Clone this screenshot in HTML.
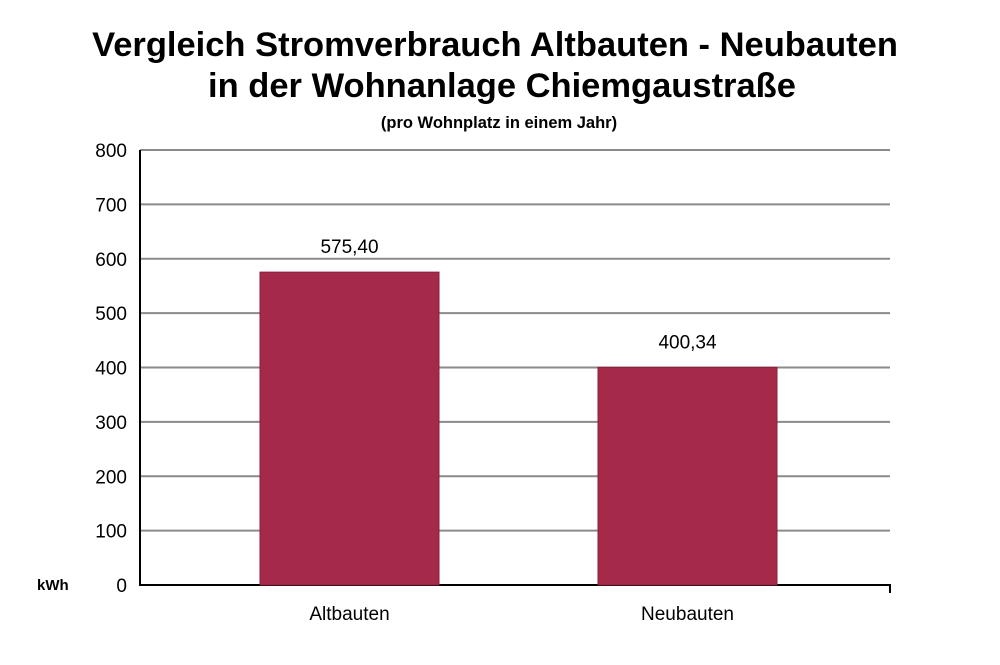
<!DOCTYPE html>
<html><head><meta charset="utf-8"><style>
body{margin:0;background:#fff;}
svg text{font-family:"Liberation Sans",Arial,sans-serif;}
</style></head><body>
<svg id="chart" width="1000" height="660" xmlns="http://www.w3.org/2000/svg">
<text x="495" y="56" text-anchor="middle" font-size="34.5" font-weight="bold">Vergleich Stromverbrauch Altbauten - Neubauten</text>
<text x="502" y="97" text-anchor="middle" font-size="34.5" font-weight="bold">in der Wohnanlage Chiemgaustraße</text>
<text x="499" y="128" text-anchor="middle" font-size="16.5" font-weight="bold">(pro Wohnplatz in einem Jahr)</text>
<text x="37" y="590" font-size="15" font-weight="bold">kWh</text>
<g id="grid"></g><g id="bars"></g><g id="labels"></g>
</svg>
<script>
const categories=["Altbauten","Neubauten"];
const values=[575.40,400.34];
const valueLabels=["575,40","400,34"];
const yTicks=[0,100,200,300,400,500,600,700,800];
const NS="http://www.w3.org/2000/svg";
const x0=140,x1=890,yBase=585,yTop=150,yMax=800;
function y(v){return yBase-(v/yMax)*(yBase-yTop);}
function xc(i){return 349.5+i*338;}
function mk(t,a,p){const e=document.createElementNS(NS,t);for(const k in a)e.setAttribute(k,a[k]);p.appendChild(e);return e;}
const grid=document.getElementById('grid'),bars=document.getElementById('bars'),labels=document.getElementById('labels');
yTicks.forEach(v=>{
 if(v>0){const l=mk('line',{x1:x0,x2:x1,y1:y(v),y2:y(v),stroke:'#8a8a8a','stroke-width':2},grid);
 
 }
 const t=mk('text',{x:127,y:y(v)+7,'text-anchor':'end','font-size':19},grid);t.textContent=v;
 
 
});
const ax=mk('path',{d:`M${x0} ${yTop} V${yBase} H${x1} V${yBase+8}`,fill:'none',stroke:'#000','stroke-width':2},grid);


const bw=179;
categories.forEach((c,i)=>{
 const cx=xc(i);
 const r=mk('rect',{x:cx-bw/2,y:y(values[i]),width:bw,height:yBase-y(values[i]),fill:'#a52a4a',stroke:'#8a1f3a','stroke-width':1},bars);
 
 
 const vl=mk('text',{x:cx,y:y(values[i])-19,'text-anchor':'middle','font-size':19},labels);vl.textContent=valueLabels[i];
 
 
 const xl=mk('text',{x:cx,y:620,'text-anchor':'middle','font-size':19},labels);xl.textContent=c;
 
 
});
</script>
</body></html>
